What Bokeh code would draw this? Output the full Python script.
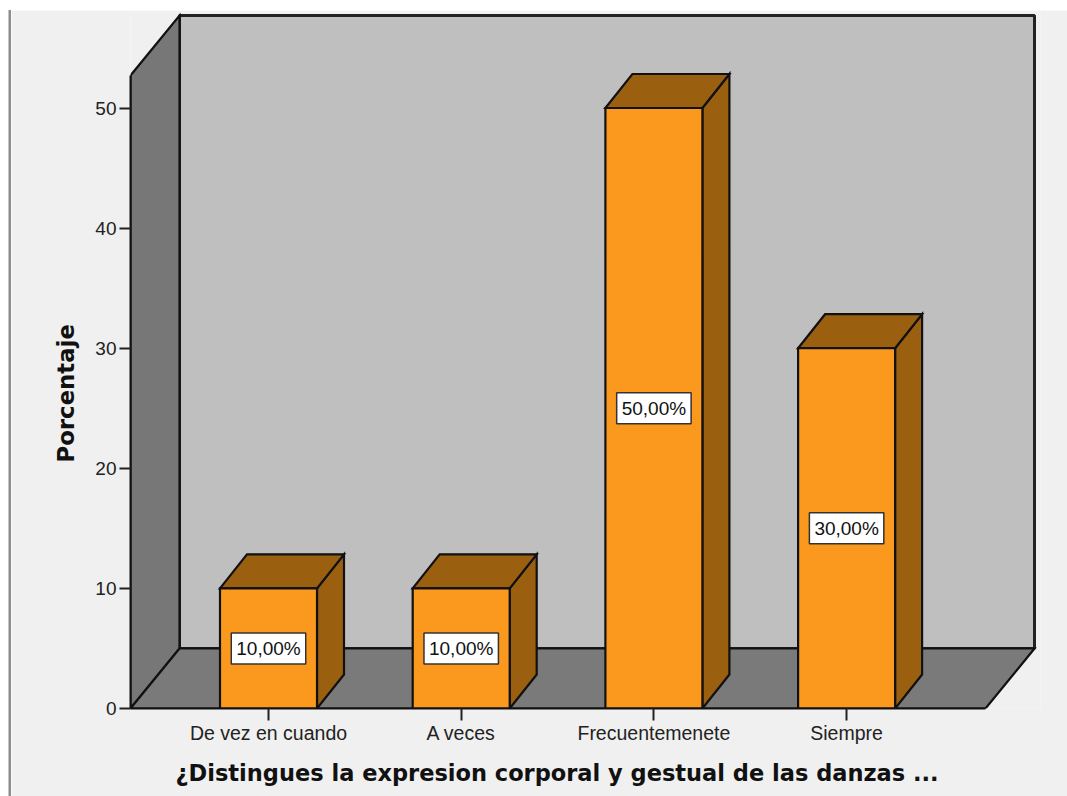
from bokeh.plotting import figure
from bokeh.models import Range1d, FixedTicker, Title
from bokeh.embed import file_html
from bokeh.resources import INLINE
from bokeh.core.properties import value

categories = ["De vez en cuando", "A veces", "Frecuentemenete", "Siempre"]
percent = [10, 10, 50, 30]
labels = ["10,00%", "10,00%", "50,00%", "30,00%"]
y_ticks = [0, 10, 20, 30, 40, 50]
x_title = "¿Distingues la expresion corporal y gestual de las danzas ..."
y_title = "Porcentaje"

ox, oy = 11, 10          # page position of the canvas
W, H = 1067 - ox, 796 - oy
frame_l, frame_r, frame_t, frame_b = 130, 1040, 12, 708   # page px
px_x = 192.7   # px per category
px_y = 12.01   # px per percent
x0 = 1 - (268 - frame_l) / px_x
x1 = 1 + (frame_r - 268) / px_x
y1 = (frame_b - frame_t) / px_y

wall_dx, wall_dy = 49 / px_x, 60 / px_y
bar_dx, bar_dy = 27 / px_x, 34 / px_y
bar_w = 97 / px_x
plot_top = (frame_b - 75) / px_y          # front top of the side wall
plot_right = x0 + (985 - frame_l) / px_x  # front right of the floor

p = figure(width=W, height=H, output_backend="svg", toolbar_location=None,
           x_range=Range1d(x0, x1), y_range=Range1d(0, y1),
           min_border_left=frame_l - ox, min_border_right=ox + W - frame_r,
           min_border_top=frame_t - oy, min_border_bottom=oy + H - frame_b,
           background_fill_color="#f0f0f0", border_fill_color="#f0f0f0",
           outline_line_color=None,
           styles={"margin-left": f"{ox}px", "margin-top": f"{oy}px",
                   "box-shadow": "-2.5px 0 0 #8c8c8c"})
p.grid.visible = False

edge = dict(line_color="#111111", line_width=2.2, line_join="miter")

# back wall, side wall, floor
p.patch([x0 + wall_dx, plot_right + wall_dx, plot_right + wall_dx, x0 + wall_dx],
        [wall_dy, wall_dy, plot_top + wall_dy, plot_top + wall_dy],
        fill_color="#bfbfbf", line_color="#222222", line_width=3)
p.patch([x0, x0 + wall_dx, x0 + wall_dx, x0],
        [0, wall_dy, plot_top + wall_dy, plot_top], fill_color="#777777", **edge)
p.patch([x0, plot_right, plot_right + wall_dx, x0 + wall_dx],
        [0, 0, wall_dy, wall_dy], fill_color="#7a7a7a", **edge)

# 3-D bars
for i, v in enumerate(percent):
    c = i + 1
    l, r = c - bar_w / 2, c + bar_w / 2
    p.patch([r, r + bar_dx, r + bar_dx, r], [0, bar_dy, v + bar_dy, v],
            fill_color="#9b5f10", **edge)
    p.patch([l, r, r + bar_dx, l + bar_dx], [v, v, v + bar_dy, v + bar_dy],
            fill_color="#9b5f10", **edge)
    p.patch([l, r, r, l], [0, 0, v, v], fill_color="#fb991e", **edge)

p.text(x=[i + 1 for i in range(len(percent))], y=[v / 2 for v in percent], text=labels,
       text_font=value("Liberation Sans"), text_font_size="19px", text_color="#111111",
       text_align="center", text_baseline="middle",
       background_fill_color="white", border_line_color="#333333", border_line_width=1.5,
       padding=5)

# axes
p.xaxis.ticker = FixedTicker(ticks=[1, 2, 3, 4])
p.xaxis.major_label_overrides = {i + 1: c for i, c in enumerate(categories)}
p.xaxis.bounds = (x0, plot_right)
p.yaxis.ticker = FixedTicker(ticks=y_ticks)
p.yaxis.bounds = (0, plot_top)
for ax in (p.xaxis, p.yaxis):
    ax.axis_line_color = "#111111"
    ax.axis_line_width = 2
    ax.major_tick_line_color = "#222222"
    ax.major_tick_line_width = 2
    ax.major_tick_in = 0
    ax.major_tick_out = 11
    ax.minor_tick_line_color = None
    ax.major_label_text_font = "Liberation Sans"
    ax.major_label_text_font_size = "19.5px"
    ax.major_label_text_color = "#222222"
    ax.major_label_standoff = 3
p.xaxis.major_tick_out = 12
p.xaxis.major_label_standoff = 1
p.yaxis.major_label_text_font_size = "19px"

# axis titles, placed by their own offset from the frame's corner
title_style = dict(text_font="DejaVu Sans", text_font_style="bold", text_color="#111111",
                   align="left")
p.add_layout(Title(text=x_title, text_font_size="22.5px", offset=175 - frame_l, standoff=22,
                   text_line_height=0.85, **title_style), "below")
p.add_layout(Title(text=y_title, text_font_size="22.8px", offset=frame_b - 462, standoff=28,
                   **title_style), "left")

open("out.html", "w").write(file_html(p, INLINE))
